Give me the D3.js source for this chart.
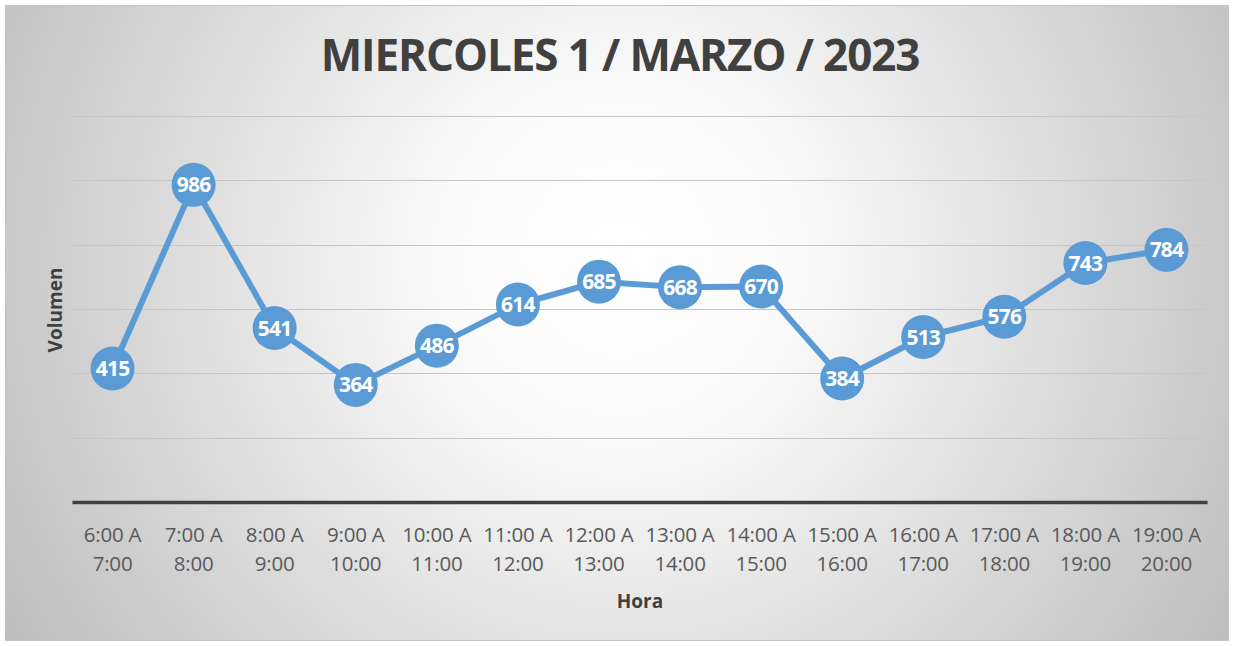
<!DOCTYPE html>
<html>
<head>
<meta charset="utf-8">
<script src="https://cdn.jsdelivr.net/npm/d3@7"></script>
<style>
  body { margin: 0; background: #fff; }
  svg { display: block; }
</style>
</head>
<body>
<svg width="1235" height="646"></svg>
<script>
const categories = ["6:00 A|7:00", "7:00 A|8:00", "8:00 A|9:00", "9:00 A|10:00", "10:00 A|11:00", "11:00 A|12:00",
  "12:00 A|13:00", "13:00 A|14:00", "14:00 A|15:00", "15:00 A|16:00", "16:00 A|17:00", "17:00 A|18:00",
  "18:00 A|19:00", "19:00 A|20:00"];
const volumen = [415, 986, 541, 364, 486, 614, 685, 668, 670, 384, 513, 576, 743, 784];
const yTicks = [0, 200, 400, 600, 800, 1000, 1200];

const svg = d3.select('svg');

// background gradient
const defs = svg.append('defs');
const grad = defs.append('radialGradient')
  .attr('id', 'bg')
  .attr('gradientUnits', 'userSpaceOnUse')
  .attr('cx', 620).attr('cy', 260).attr('r', 720);
grad.append('stop').attr('offset', '0%').attr('stop-color', '#ffffff');
grad.append('stop').attr('offset', '25%').attr('stop-color', '#fafafa');
grad.append('stop').attr('offset', '100%').attr('stop-color', '#bdbdbd');

svg.append('rect')
  .attr('x', 5.5).attr('y', 5.5)
  .attr('width', 1223).attr('height', 635)
  .attr('fill', 'url(#bg)')
  .attr('stroke', '#c4c4c4')
  .attr('stroke-width', 1);

const x = d3.scaleBand().domain(categories).range([72, 1207]);
const y = d3.scaleLinear().domain([0, 1200]).range([502, 116]);

// grid
svg.append('g')
  .selectAll('line')
  .data(yTicks.filter(d => d > 0))
  .join('line')
  .attr('x1', 72).attr('x2', 1207)
  .attr('y1', d => Math.round(y(d)) + 0.5)
  .attr('y2', d => Math.round(y(d)) + 0.5)
  .attr('stroke', '#c6c6c6')
  .attr('stroke-width', 1);

// x axis
const xAxis = svg.append('g')
  .attr('transform', 'translate(0,502)')
  .call(d3.axisBottom(x).tickSize(0).tickFormat(''));
xAxis.select('.domain')
  .attr('stroke', '#404040')
  .attr('stroke-width', 3.5);

xAxis.selectAll('.tick').each(function(d) {
  const parts = d.split('|');
  const t = d3.select(this).append('text')
    .attr('fill', '#595959')
    .attr('font-family', 'Open Sans, sans-serif')
    .attr('font-size', 20.5)
    .attr('letter-spacing', -0.2)
    .attr('text-anchor', 'middle');
  parts.forEach((p, i) => {
    t.append('tspan').attr('x', 0).attr('y', 40 + i * 29).text(p);
  });
});

// line
const line = d3.line()
  .x((d, i) => x(categories[i]) + x.bandwidth() / 2)
  .y(d => y(d));

svg.append('path')
  .datum(volumen)
  .attr('d', line)
  .attr('fill', 'none')
  .attr('stroke', '#5b9bd5')
  .attr('stroke-width', 6)
  .attr('stroke-linejoin', 'round');

const pts = svg.append('g')
  .selectAll('g')
  .data(volumen)
  .join('g')
  .attr('transform', (d, i) => `translate(${x(categories[i]) + x.bandwidth() / 2},${y(d)})`);

pts.append('circle')
  .attr('r', 22)
  .attr('fill', '#5b9bd5');

pts.append('text')
  .attr('text-anchor', 'middle')
  .attr('dy', '0.36em')
  .attr('fill', '#ffffff')
  .attr('font-family', 'Open Sans, sans-serif')
  .attr('font-weight', 'bold')
  .attr('font-size', 21)
  .attr('letter-spacing', -0.8)
  .text(d => d);

// title
svg.append('text')
  .attr('x', 620).attr('y', 71)
  .attr('text-anchor', 'middle')
  .attr('fill', '#404040')
  .attr('font-family', 'Open Sans, sans-serif')
  .attr('font-weight', 'bold')
  .attr('font-size', 44)
  .attr('letter-spacing', -1.1)
  .text('MIERCOLES 1 / MARZO / 2023');

// axis titles
svg.append('text')
  .attr('transform', 'translate(62,310) rotate(-90)')
  .attr('text-anchor', 'middle')
  .attr('fill', '#404040')
  .attr('font-family', 'Open Sans, sans-serif')
  .attr('font-weight', 'bold')
  .attr('font-size', 19)
  .text('Volumen');

svg.append('text')
  .attr('x', 640).attr('y', 608)
  .attr('text-anchor', 'middle')
  .attr('fill', '#404040')
  .attr('font-family', 'Open Sans, sans-serif')
  .attr('font-weight', 'bold')
  .attr('font-size', 19)
  .text('Hora');
</script>
</body>
</html>
